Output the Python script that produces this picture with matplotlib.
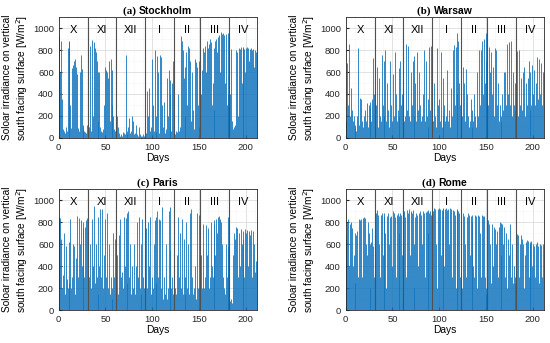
import numpy as np
import matplotlib
matplotlib.use("Agg")
import matplotlib.pyplot as plt
from matplotlib.ticker import MultipleLocator

plt.rcParams['font.family'] = ['Liberation Sans', 'DejaVu Sans']

# months Oct..Apr, 212 days in total
months = ['X', 'XI', 'XII', 'I', 'II', 'III', 'IV']
month_days = [31, 30, 31, 31, 28, 31, 30]

# daily peak irradiance [W/m2] (one row per month)
stockholm = [
    930, 600, 880, 350, 80, 60, 40, 100, 60, 820, 880, 870, 300, 90, 640, 660, 700, 720, 650, 580, 90, 60, 600, 760, 630, 120, 80, 60, 50, 40, 120,
    930, 100, 840, 60, 890, 200, 870, 820, 780, 700, 150, 600, 600, 100, 60, 50, 80, 300, 650, 620, 600, 550, 700, 150, 720, 620, 300, 200, 80, 60,
    280, 200, 100, 40, 20, 30, 20, 50, 40, 30, 760, 60, 30, 100, 180, 40, 60, 200, 150, 30, 40, 120, 30, 20, 100, 30, 20, 10, 20, 30, 20,
    30, 40, 430, 200, 450, 60, 100, 720, 300, 60, 800, 200, 50, 750, 600, 40, 760, 740, 300, 100, 330, 40, 80, 550, 200, 620, 400, 530, 60, 500, 700,
    40, 30, 60, 50, 400, 60, 100, 930, 880, 800, 550, 650, 200, 780, 300, 840, 820, 700, 150, 600, 250, 80, 720, 690, 650, 300, 100, 700,
    670, 400, 620, 820, 780, 840, 600, 880, 820, 860, 900, 870, 300, 500, 250, 820, 880, 900, 780, 920, 940, 600, 970, 950, 960, 940, 500, 950, 300, 960, 400,
    820, 400, 810, 150, 80, 100, 120, 800, 780, 200, 820, 810, 830, 500, 820, 830, 810, 600, 820, 830, 820, 700, 810, 820, 800, 810, 650, 800, 780, 720,
]
warsaw = [
    150, 680, 300, 860, 200, 450, 250, 150, 200, 100, 120, 60, 200, 820, 120, 360, 350, 150, 100, 200, 250, 150, 320, 100, 300, 280, 330, 150, 350, 730, 400,
    200, 300, 650, 100, 550, 200, 150, 760, 300, 700, 200, 800, 150, 500, 250, 100, 700, 300, 150, 580, 200, 780, 400, 150, 250, 640, 200, 700, 300, 400,
    300, 150, 200, 860, 250, 840, 200, 150, 600, 300, 700, 750, 200, 500, 150, 780, 250, 600, 300, 150, 200, 400, 800, 150, 700, 200, 350, 100, 830, 250, 840,
    200, 150, 500, 200, 100, 820, 300, 350, 150, 780, 100, 200, 550, 300, 150, 200, 620, 150, 250, 100, 450, 200, 800, 850, 300, 830, 400, 960, 880, 500, 300,
    150, 200, 650, 500, 150, 630, 400, 200, 100, 150, 350, 100, 250, 150, 400, 200, 100, 600, 200, 800, 300, 800, 880, 400, 900, 500, 700, 960,
    200, 300, 830, 600, 780, 400, 650, 200, 820, 800, 300, 500, 150, 300, 200, 150, 400, 250, 600, 600, 300, 860, 400, 870, 300, 880, 200, 600, 300, 250, 500,
    300, 790, 200, 800, 300, 550, 250, 600, 650, 200, 500, 300, 550, 700, 250, 600, 300, 660, 400, 620, 300, 500, 740, 350, 720, 400, 680, 300, 600, 710,
]
paris = [
    850, 840, 650, 200, 320, 700, 150, 580, 280, 200, 620, 250, 830, 200, 300, 600, 580, 150, 470, 860, 300, 840, 600, 820, 400, 800, 750, 300, 760, 820, 840,
    150, 300, 600, 200, 830, 400, 950, 250, 600, 300, 150, 850, 400, 920, 300, 920, 200, 500, 830, 300, 880, 200, 600, 150, 300, 100, 200, 700, 300, 650,
    200, 500, 150, 680, 830, 300, 350, 200, 850, 400, 840, 250, 880, 900, 300, 600, 150, 400, 200, 600, 150, 400, 800, 300, 850, 200, 600, 150, 830, 300, 200,
    300, 750, 200, 800, 400, 850, 150, 300, 200, 600, 820, 250, 850, 900, 300, 830, 820, 200, 940, 100, 300, 150, 600, 100, 200, 900, 940, 550, 200, 300, 150,
    870, 200, 150, 500, 850, 300, 700, 200, 830, 150, 650, 300, 150, 800, 200, 600, 150, 880, 920, 300, 150, 200, 400, 100, 880, 200, 870, 200,
    200, 500, 200, 780, 200, 300, 770, 500, 750, 200, 300, 800, 400, 300, 780, 820, 500, 830, 700, 850, 860, 830, 800, 600, 300, 200, 150, 600, 300, 580, 850,
    120, 80, 100, 60, 500, 700, 650, 760, 750, 300, 700, 400, 740, 600, 720, 650, 300, 740, 700, 730, 400, 720, 680, 730, 300, 720, 600, 350, 450, 620,
]
rome = [
    650, 800, 830, 400, 780, 800, 750, 400, 500, 700, 250, 680, 720, 300, 830, 820, 830, 300, 840, 850, 840, 600, 500, 800, 700, 200, 600, 620, 750, 580, 300,
    50, 880, 910, 870, 600, 300, 870, 880, 500, 860, 880, 700, 200, 860, 880, 600, 850, 860, 400, 900, 880, 850, 300, 870, 880, 700, 860, 880, 870, 500,
    880, 900, 850, 300, 910, 880, 920, 500, 900, 880, 910, 600, 200, 850, 880, 870, 400, 880, 900, 870, 600, 900, 880, 300, 890, 900, 910, 700, 880, 900, 870,
    920, 900, 930, 920, 600, 200, 920, 930, 920, 500, 910, 930, 920, 400, 920, 930, 910, 920, 600, 930, 920, 300, 910, 900, 870, 200, 920, 910, 900, 880, 300,
    400, 200, 880, 860, 600, 300, 850, 880, 870, 500, 860, 800, 870, 400, 300, 870, 860, 200, 870, 860, 700, 300, 870, 860, 860, 300, 200, 150,
    700, 820, 780, 600, 250, 780, 400, 760, 740, 600, 720, 300, 760, 800, 790, 500, 780, 600, 760, 300, 700, 200, 650, 500, 780, 300, 600, 250, 400, 300, 250,
    680, 690, 680, 300, 600, 680, 650, 600, 200, 500, 620, 640, 630, 300, 600, 620, 630, 400, 600, 580, 300, 600, 620, 580, 250, 600, 590, 300, 600, 580,
]

cities = ['Stockholm', 'Warsaw', 'Paris', 'Rome']
letters = ['(a)', '(b)', '(c)', '(d)']
series = [stockholm, warsaw, paris, rome]

fig = plt.figure(figsize=(5.5, 3.43), dpi=100)
rects = [[0.1067, 0.5985, 0.3606, 0.351], [0.6285, 0.5985, 0.3606, 0.351],
         [0.1067, 0.0962, 0.3606, 0.352], [0.6285, 0.0962, 0.3606, 0.352]]

bounds = np.cumsum(month_days)
starts = np.concatenate([[0], bounds[:-1]])
centers = starts + np.array(month_days) / 2

axes = []
titles = []
for k in range(4):
    ax = fig.add_axes(rects[k])
    vals = np.array(series[k])
    days = np.arange(len(vals)) + 0.5
    ax.vlines(days, 0, vals, color='#0f74bd', lw=0.6, zorder=2)
    ax.set_xlim(0, 212)
    ax.set_ylim(0, 1100)
    ax.set_xticks([0, 50, 100, 150, 200])
    ax.set_yticks(np.arange(0, 1001, 200))
    ax.xaxis.set_minor_locator(MultipleLocator(10))
    ax.yaxis.set_minor_locator(MultipleLocator(100))
    ax.grid(which='major', color='#d6d6d6', lw=0.5)
    ax.grid(which='minor', color='#e6e6e6', lw=0.4, ls=':')
    ax.set_axisbelow(True)
    ax.tick_params(which='both', direction='in', labelsize=6.8, colors='#262626', length=2)
    ax.tick_params(which='minor', length=0)
    for sp in ax.spines.values():
        sp.set_color('#262626')
        sp.set_linewidth(0.6)
    for b in bounds[:-1]:
        ax.axvline(b, color='#505050', lw=0.8, zorder=3)
    for c, m in zip(centers, months):
        ax.text(c, 985, m, ha='center', va='center', fontsize=8, zorder=4)
    ax.set_xlabel('Days', fontsize=7.4, labelpad=1)
    ax.set_ylabel('Soloar irradiance on vertical\nsouth facing surface [W/m$^2$]',
                  fontsize=7.3, labelpad=2)
    t1 = ax.text(0.5, 1.012, letters[k] + ' ', transform=ax.transAxes, ha='right',
                 va='bottom', fontsize=7.8, fontweight='bold', family='Liberation Serif')
    t2 = ax.text(0.5, 1.012, cities[k], transform=ax.transAxes, ha='left',
                 va='bottom', fontsize=7.5, fontweight='bold')
    axes.append(ax)
    titles.append((t1, t2))

# centre the two-part titles
fig.canvas.draw()
r = fig.canvas.get_renderer()
for ax, (t1, t2) in zip(axes, titles):
    w1 = t1.get_window_extent(r).width / ax.bbox.width
    w2 = t2.get_window_extent(r).width / ax.bbox.width
    sh = (w1 - w2) / 2
    t1.set_x(0.5 + sh)
    t2.set_x(0.5 + sh)

fig.savefig('out.png', dpi=100)
